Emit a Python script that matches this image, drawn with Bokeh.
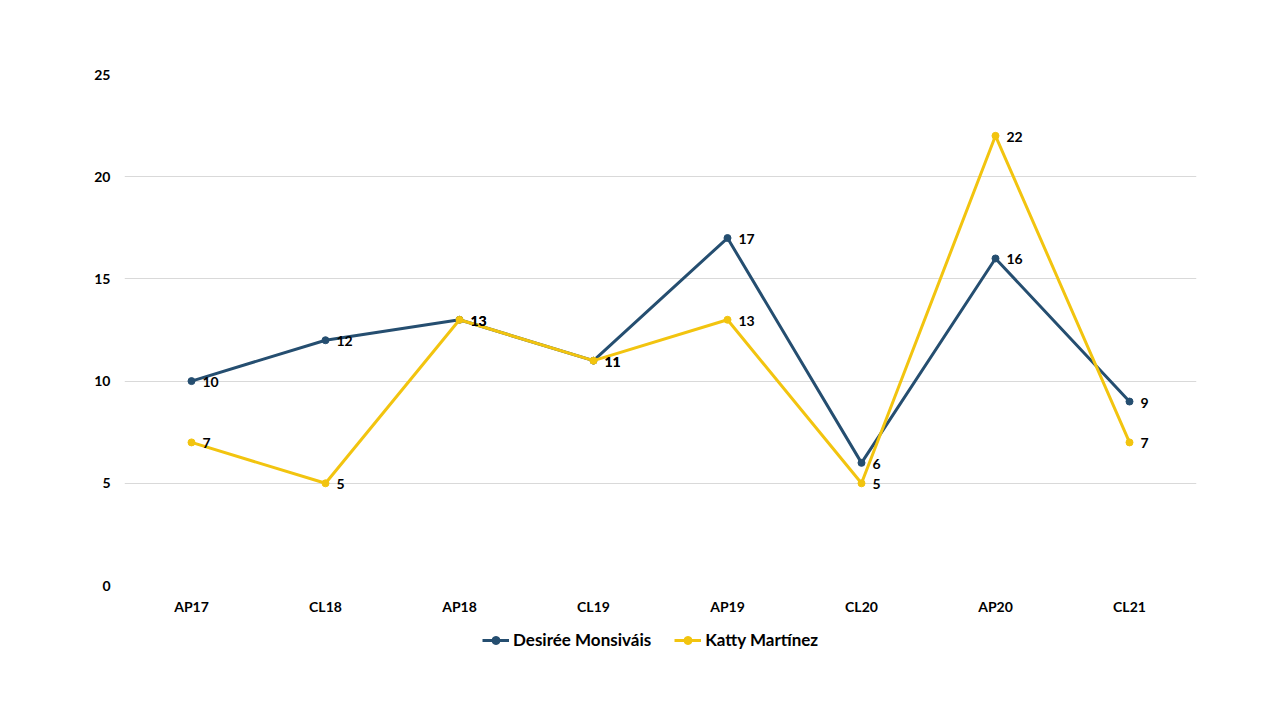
from bokeh.plotting import figure
from bokeh.layouts import column
from bokeh.models import Legend, LegendItem, ColumnDataSource, LabelSet, SingleIntervalTicker
from bokeh.core.properties import value
from bokeh.embed import file_html
from bokeh.resources import INLINE

categories = ["AP17", "CL18", "AP18", "CL19", "AP19", "CL20", "AP20", "CL21"]
desiree = [10, 12, 13, 11, 17, 6, 16, 9]
katty = [7, 5, 13, 11, 13, 5, 22, 7]
series_names = ["Desirée Monsiváis", "Katty Martínez"]

BLUE = "#254E70"
YELLOW = "#F2C40F"
FONT = "Lato"

p = figure(x_range=categories, y_range=(0, 25), width=1264, height=617,
           output_backend="svg", toolbar_location=None,
           min_border_left=124, min_border_right=68, min_border_top=74, min_border_bottom=32)
p.x_range.range_padding = 0
p.outline_line_color = None
p.xgrid.grid_line_color = None
p.ygrid.grid_line_color = "#D9D9D9"
p.yaxis.ticker = SingleIntervalTicker(interval=5)
for ax in (p.xaxis, p.yaxis):
    ax.axis_line_color = None
    ax.major_tick_line_color = None
    ax.minor_tick_line_color = None
    ax.major_tick_out = 0
    ax.major_tick_in = 0
    ax.minor_tick_out = 0
    ax.major_label_text_font = FONT
    ax.major_label_text_font_style = "bold"
    ax.major_label_text_font_size = "14px"
    ax.major_label_text_color = "#000000"
p.yaxis.major_label_standoff = 14
p.xaxis.major_label_standoff = 12

src_d = ColumnDataSource(dict(x=categories, y=desiree, t=[str(v) for v in desiree]))
src_k = ColumnDataSource(dict(x=categories, y=katty, t=[str(v) for v in katty]))

p.line("x", "y", source=src_d, line_color=BLUE, line_width=3)
p.scatter("x", "y", source=src_d, size=7, fill_color=BLUE, line_color=BLUE)
p.line("x", "y", source=src_k, line_color=YELLOW, line_width=3)
p.scatter("x", "y", source=src_k, size=7, fill_color=YELLOW, line_color=YELLOW)

for src in (src_d, src_k):
    labels = LabelSet(x="x", y="y", text="t", source=src, x_offset=11, y_offset=-1,
                      text_baseline="middle", text_align="left",
                      text_font=value(FONT), text_font_style="bold", text_font_size="14px",
                      text_color="#000000")
    p.add_layout(labels)

# legend strip below the chart (its series are outside its visible range)
p2 = figure(width=1264, height=70, output_backend="svg", toolbar_location=None,
            x_axis_type=None, y_axis_type=None, min_border=0,
            x_range=categories, y_range=(100, 200))
p2.outline_line_color = None
p2.grid.visible = False
lg1 = p2.line("x", "y", source=src_d, line_color=BLUE, line_width=3)
sg1 = p2.scatter("x", "y", source=src_d, size=7, fill_color=BLUE, line_color=BLUE)
lg2 = p2.line("x", "y", source=src_k, line_color=YELLOW, line_width=3)
sg2 = p2.scatter("x", "y", source=src_k, size=7, fill_color=YELLOW, line_color=YELLOW)

legend = Legend(items=[LegendItem(label=series_names[0], renderers=[lg1, sg1]),
                       LegendItem(label=series_names[1], renderers=[lg2, sg2])],
                orientation="horizontal", location=(358, 37),
                label_text_font=FONT, label_text_font_style="bold",
                label_text_font_size="17px", label_text_color="#000000",
                border_line_color=None, background_fill_alpha=0,
                glyph_width=27, glyph_height=20, spacing=23, margin=0, padding=5,
                label_standoff=4)
p2.add_layout(legend, "center")

open("out.html", "w").write(file_html(column(p, p2, spacing=0), INLINE))
